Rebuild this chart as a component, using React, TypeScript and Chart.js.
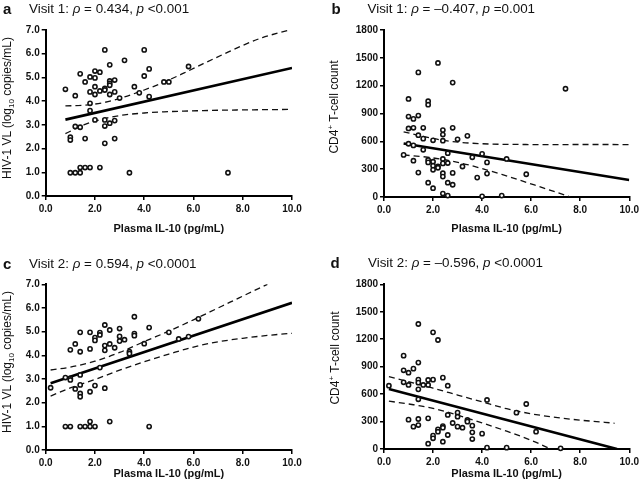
import React, { useEffect, useRef } from 'react';
import { Chart, registerables } from 'chart.js';
Chart.register(...registerables);

const FONT = 'Arial, "Liberation Sans", Helvetica, sans-serif';

// ---------- tick values ----------
const il10Ticks = [0, 2, 4, 6, 8, 10];
const vlTicks = [0, 1, 2, 3, 4, 5, 6, 7];
const cd4Ticks = [0, 300, 600, 900, 1200, 1500, 1800];

// ---------- titles ----------
const panelLetters = ['a', 'b', 'c', 'd'];
const visitLabels = ['Visit 1', 'Visit 1', 'Visit 2', 'Visit 2'];
const rhoValues = ['0.434', '–0.407', '0.594', '–0.596'];
const pValues = ['<0.001', '=0.001', '<0.0001', '<0.0001'];
const xTitle = 'Plasma IL-10 (pg/mL)';

// ---------- panel a: Visit 1, HIV-1 VL ----------
const v1VlIL10 = [0.8, 1.2, 1.4, 1.6, 1.8, 1.8, 2.0, 2.0, 2.0, 2.0, 2.2, 2.2, 2.4, 2.4, 2.4, 2.6, 2.6, 2.6, 2.6, 2.6, 2.8, 2.8, 3.0, 3.2, 3.6, 3.8, 4.0, 4.0, 4.2, 4.2, 4.8, 5.0, 5.8, 1.8, 1.8, 2.0, 2.4, 2.4, 2.6, 2.8, 1.2, 1.4, 1.0, 1.0, 1.6, 2.4, 2.8, 1.4, 1.6, 1.8, 2.2, 1.0, 1.2, 1.4, 3.4, 7.4];
const v1Vl = [4.50, 4.23, 5.15, 4.81, 5.02, 4.39, 5.27, 4.98, 4.61, 4.28, 5.22, 4.43, 6.16, 4.54, 4.47, 5.53, 4.85, 4.75, 4.67, 4.28, 4.89, 4.39, 4.13, 5.72, 4.61, 4.35, 6.16, 5.06, 5.36, 4.19, 4.81, 4.81, 5.46, 3.91, 3.60, 3.21, 3.21, 2.95, 3.07, 3.18, 2.93, 2.90, 2.48, 2.36, 2.42, 2.22, 2.42, 1.20, 1.20, 1.20, 1.20, 0.98, 0.98, 0.98, 0.98, 0.98];
const v1VlFitX = [0.8, 10];
const v1VlFitY = [3.22, 5.4];
const v1VlUpperX = [0.8, 1.6, 2.4, 3.2, 4.0, 4.8, 5.6, 6.4, 7.2, 8.0, 8.8, 9.9];
const v1VlUpperY = [3.80, 3.83, 3.95, 4.18, 4.47, 4.80, 5.18, 5.58, 5.97, 6.35, 6.68, 7.0];
const v1VlLowerX = [0.8, 1.6, 2.4, 3.2, 4.0, 4.8, 5.6, 6.4, 7.2, 8.0, 8.8, 9.9];
const v1VlLowerY = [2.63, 3.02, 3.27, 3.42, 3.50, 3.55, 3.58, 3.60, 3.62, 3.63, 3.64, 3.65];

// ---------- panel b: Visit 1, CD4 ----------
const v1CdIL10 = [0.8, 1.0, 1.0, 1.0, 1.0, 1.2, 1.2, 1.2, 1.2, 1.4, 1.4, 1.4, 1.4, 1.6, 1.6, 1.6, 1.8, 1.8, 1.8, 1.8, 1.8, 2.0, 2.0, 2.0, 2.0, 2.0, 2.2, 2.2, 2.2, 2.4, 2.4, 2.4, 2.4, 2.4, 2.4, 2.4, 2.4, 2.6, 2.6, 2.6, 2.6, 2.8, 2.8, 2.8, 2.8, 3.0, 3.2, 3.4, 3.6, 3.8, 4.0, 4.0, 4.2, 4.2, 4.8, 5.0, 5.8, 7.4];
const v1Cd4 = [454, 1057, 867, 739, 574, 842, 746, 556, 391, 1343, 878, 666, 263, 746, 629, 509, 1032, 995, 399, 373, 154, 611, 380, 337, 293, 95, 1445, 329, 315, 721, 673, 607, 410, 362, 256, 220, 37, 472, 366, 154, 15, 1233, 746, 260, 132, 622, 329, 659, 428, 209, 465, 7, 373, 252, 15, 410, 245, 1167];
const v1CdFitX = [0.8, 10];
const v1CdFitY = [577, 183];
const v1CdUpperX = [0.8, 1.6, 2.4, 3.2, 4.0, 4.8, 5.6, 6.4, 7.2, 8.0, 8.8, 10];
const v1CdUpperY = [703, 652, 612, 587, 574, 568, 566, 565, 565, 566, 566, 565];
const v1CdLowerX = [0.8, 1.6, 2.4, 3.2, 4.0, 4.8, 5.6, 6.4, 7.2, 7.6];
const v1CdLowerY = [453, 434, 405, 362, 306, 243, 176, 106, 36, 0];

// ---------- panel c: Visit 2, HIV-1 VL ----------
const v2VlIL10 = [0.2, 0.8, 0.8, 1.0, 1.0, 1.0, 1.0, 1.2, 1.2, 1.4, 1.4, 1.4, 1.4, 1.4, 1.4, 1.4, 1.6, 1.8, 1.8, 1.8, 1.8, 1.8, 2.0, 2.0, 2.0, 2.0, 2.2, 2.2, 2.2, 2.4, 2.4, 2.4, 2.4, 2.6, 2.6, 2.6, 2.8, 3.0, 3.0, 3.0, 3.2, 3.4, 3.4, 3.6, 3.6, 3.6, 4.0, 4.2, 4.2, 5.0, 5.4, 5.8, 6.2];
const v2Vl = [2.63, 3.06, 0.99, 3.03, 2.96, 4.23, 0.99, 4.48, 2.58, 4.97, 4.15, 3.17, 2.75, 2.39, 2.25, 0.99, 0.99, 4.97, 4.27, 2.46, 1.20, 0.99, 4.75, 4.63, 2.72, 0.99, 4.96, 4.86, 3.48, 5.28, 4.41, 4.21, 2.61, 5.07, 4.48, 1.20, 4.32, 5.13, 4.80, 4.60, 4.66, 4.15, 4.07, 5.63, 4.92, 4.83, 4.49, 5.17, 0.99, 4.97, 4.69, 4.79, 5.54];
const v2VlFitX = [0.2, 10];
const v2VlFitY = [2.82, 6.22];
const v2VlUpperX = [0.2, 1, 2, 3, 4, 5, 6, 7, 8, 9];
const v2VlUpperY = [3.38, 3.5, 3.75, 4.12, 4.58, 5.02, 5.5, 6.0, 6.5, 7.0];
const v2VlLowerX = [0.2, 1, 2, 3, 4, 5, 6, 7, 8, 9, 10];
const v2VlLowerY = [2.28, 2.62, 2.98, 3.37, 3.73, 4.05, 4.35, 4.57, 4.72, 4.84, 4.93];

// ---------- panel d: Visit 2, CD4 ----------
const v2CdIL10 = [0.2, 0.8, 0.8, 0.8, 1.0, 1.0, 1.0, 1.2, 1.2, 1.4, 1.4, 1.4, 1.4, 1.4, 1.4, 1.4, 1.4, 1.6, 1.8, 1.8, 1.8, 1.8, 2.0, 2.0, 2.0, 2.0, 2.2, 2.2, 2.2, 2.4, 2.4, 2.4, 2.4, 2.6, 2.6, 2.6, 2.8, 3.0, 3.0, 3.0, 3.2, 3.4, 3.4, 3.6, 3.6, 3.6, 4.0, 4.2, 4.2, 5.0, 5.4, 5.8, 6.2, 7.2];
const v2Cd4 = [692, 1020, 860, 729, 834, 700, 321, 878, 244, 1366, 944, 758, 725, 652, 543, 328, 262, 700, 754, 700, 335, 58, 1275, 758, 146, 117, 1191, 215, 189, 780, 251, 233, 80, 692, 372, 153, 284, 397, 353, 244, 233, 317, 299, 255, 182, 109, 168, 536, 15, 15, 397, 492, 189, 7];
const v2CdFitX = [0.2, 9.5];
const v2CdFitY = [656, 0];
const v2CdUpperX = [0.2, 1, 2, 3, 4, 5, 6, 7, 8, 9, 9.4];
const v2CdUpperY = [790, 735, 665, 590, 515, 440, 385, 345, 315, 292, 281];
const v2CdLowerX = [0.2, 1, 2, 3, 4, 5, 6, 6.8];
const v2CdLowerY = [523, 492, 445, 370, 285, 195, 95, 0];

const pts = (xs: number[], ys: number[]) => xs.map((x, i) => ({ x, y: ys[i] }));

type Panel = {
  left: number; top: number; w: number; h: number;
  padTop: number; padRight: number; yW: number; xH: number; xTitlePad: number;
  yMax: number; yTicks: number[]; yFmt: (v: number) => string;
  xs: number[]; ys: number[]; fitX: number[]; fitY: number[];
  upX: number[]; upY: number[]; loX: number[]; loY: number[];
  yTitleX: number; yTitleY: number; kind: 'vl' | 'cd4';
  letterX: number; textX: number; baseline: number;
};

const fmt1 = (v: number) => v.toFixed(1);
const fmt0 = (v: number) => String(v);

const PANELS: Panel[] = [
  { left: 0, top: 0, w: 320, h: 245, padTop: 30, padRight: 28, yW: 45.7, xH: 49, xTitlePad: 9.4,
    yMax: 7, yTicks: vlTicks, yFmt: fmt1, xs: v1VlIL10, ys: v1Vl, fitX: v1VlFitX, fitY: v1VlFitY,
    upX: v1VlUpperX, upY: v1VlUpperY, loX: v1VlLowerX, loY: v1VlLowerY,
    yTitleX: 7.5, yTitleY: 108, kind: 'vl', letterX: 3, textX: 29, baseline: 13.5 },
  { left: 320, top: 0, w: 322, h: 245, padTop: 30, padRight: 9.3, yW: 64, xH: 48, xTitlePad: 9.1,
    yMax: 1800, yTicks: cd4Ticks, yFmt: fmt0, xs: v1CdIL10, ys: v1Cd4, fitX: v1CdFitX, fitY: v1CdFitY,
    upX: v1CdUpperX, upY: v1CdUpperY, loX: v1CdLowerX, loY: v1CdLowerY,
    yTitleX: 335, yTitleY: 107, kind: 'cd4', letterX: 331.5, textX: 367.5, baseline: 13.5 },
  { left: 0, top: 245, w: 320, h: 245, padTop: 39.3, padRight: 28, yW: 45.7, xH: 40, xTitlePad: 9.1,
    yMax: 7, yTicks: vlTicks, yFmt: fmt1, xs: v2VlIL10, ys: v2Vl, fitX: v2VlFitX, fitY: v2VlFitY,
    upX: v2VlUpperX, upY: v2VlUpperY, loX: v2VlLowerX, loY: v2VlLowerY,
    yTitleX: 7.5, yTitleY: 362, kind: 'vl', letterX: 3, textX: 29, baseline: 268.3 },
  { left: 320, top: 245, w: 322, h: 245, padTop: 39.3, padRight: 10.3, yW: 64, xH: 41, xTitlePad: 9.1,
    yMax: 1800, yTicks: cd4Ticks, yFmt: fmt0, xs: v2CdIL10, ys: v2Cd4, fitX: v2CdFitX, fitY: v2CdFitY,
    upX: v2CdUpperX, upY: v2CdUpperY, loX: v2CdLowerX, loY: v2CdLowerY,
    yTitleX: 336, yTitleY: 358, kind: 'cd4', letterX: 330.5, textX: 368, baseline: 267.7 },
];

const tickFont = { family: FONT, size: 10, weight: 'bold' as const };

function buildConfig(p: Panel): any {
  const dashed = {
    showLine: true, borderColor: '#111', borderWidth: 1.3, borderDash: [6, 4],
    pointRadius: 0, cubicInterpolationMode: 'monotone', order: 2, fill: false,
  };
  return {
    type: 'scatter',
    data: {
      datasets: [
        { label: 'patients', data: pts(p.xs, p.ys), pointRadius: 2.1, pointBorderWidth: 1.6,
          pointBackgroundColor: '#fff', pointBorderColor: '#111', showLine: false, order: 0, clip: false },
        { label: 'fit', data: pts(p.fitX, p.fitY), showLine: true, borderColor: '#000', borderWidth: 2.6,
          pointRadius: 0, order: 1, fill: false },
        { label: 'upper 95% CI', data: pts(p.upX, p.upY), ...dashed },
        { label: 'lower 95% CI', data: pts(p.loX, p.loY), ...dashed },
      ],
    },
    options: {
      animation: false, responsive: false, maintainAspectRatio: false, events: [],
      layout: { padding: { left: 0, right: p.padRight, top: p.padTop, bottom: 0 } },
      plugins: { legend: { display: false }, tooltip: { enabled: false }, title: { display: false } },
      scales: {
        x: {
          type: 'linear', min: 0, max: 10,
          afterBuildTicks: (s: any) => { s.ticks = il10Ticks.map((v) => ({ value: v })); },
          afterFit: (s: any) => { s.height = p.xH; },
          ticks: { callback: (v: any) => fmt1(Number(v)), font: tickFont, color: '#111', padding: 3, maxRotation: 0, autoSkip: false },
          grid: { drawOnChartArea: false, drawTicks: true, tickLength: 4, color: '#000', lineWidth: 1.5 },
          border: { display: true, color: '#000', width: 2 },
          title: { display: true, text: xTitle, color: '#111', font: { family: FONT, size: 11, weight: 'bold' },
            padding: { top: 0, bottom: p.xTitlePad } },
        },
        y: {
          type: 'linear', min: 0, max: p.yMax,
          afterBuildTicks: (s: any) => { s.ticks = p.yTicks.map((v) => ({ value: v })); },
          afterFit: (s: any) => { s.width = p.yW; },
          ticks: { callback: (v: any) => p.yFmt(Number(v)), font: tickFont, color: '#111', padding: 2, autoSkip: false },
          grid: { drawOnChartArea: false, drawTicks: true, tickLength: 4, color: '#000', lineWidth: 1.5 },
          border: { display: true, color: '#000', width: 2 },
          title: { display: false },
        },
      },
    },
  };
}

export default function App() {
  const canvases = useRef<(HTMLCanvasElement | null)[]>([]);
  useEffect(() => {
    const charts = PANELS.map((p, i) => new Chart(canvases.current[i] as HTMLCanvasElement, buildConfig(p)));
    return () => charts.forEach((c) => c.destroy());
  }, []);

  return (
    <div style={{ position: 'fixed', left: 0, top: 0, width: 642, height: 490, background: '#fff', fontFamily: FONT, color: '#111', overflow: 'hidden' }}>
      {PANELS.map((p, i) => (
        <canvas key={'c' + i} ref={(el) => { canvases.current[i] = el; }} width={p.w} height={p.h}
          style={{ position: 'absolute', left: p.left, top: p.top, width: p.w, height: p.h }} />
      ))}
      {PANELS.map((p, i) => (
        <React.Fragment key={'t' + i}>
          <div style={{ position: 'absolute', left: p.letterX, top: p.baseline - 12.7, fontSize: 15, lineHeight: '15px', fontWeight: 'bold', whiteSpace: 'nowrap' }}>
            {panelLetters[i]}
          </div>
          <div style={{ position: 'absolute', left: p.textX, top: p.baseline - 11.3, fontSize: 13.4, lineHeight: '14px', whiteSpace: 'nowrap' }}>
            {visitLabels[i]}: <i>ρ</i> = {rhoValues[i]}, <i>p</i> {pValues[i]}
          </div>
          <div style={{ position: 'absolute', left: p.yTitleX, top: p.yTitleY, fontSize: 12, lineHeight: '14px', whiteSpace: 'nowrap',
            transform: 'translate(-50%, -50%) rotate(-90deg)' }}>
            {p.kind === 'vl'
              ? (<>HIV-1 VL (log<sub style={{ fontSize: 8, verticalAlign: 'baseline', position: 'relative', top: 3 }}>10</sub> copies/mL)</>)
              : (<>CD4<sup style={{ fontSize: 8, verticalAlign: 'baseline', position: 'relative', top: -5 }}>+</sup> T-cell count</>)}
          </div>
        </React.Fragment>
      ))}
    </div>
  );
}
